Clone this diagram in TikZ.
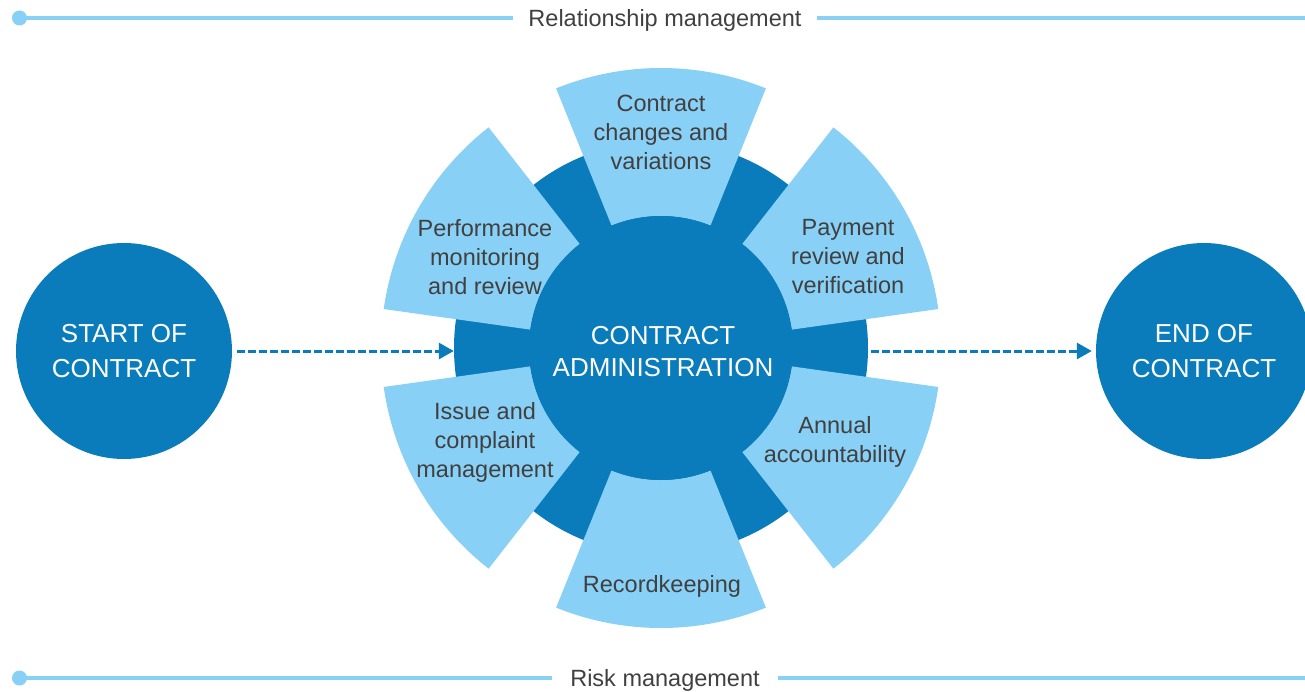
\documentclass[tikz,border=0pt]{standalone}
\usepackage{fontspec}
\setmainfont{Liberation Sans}
\usetikzlibrary{arrows.meta}
\definecolor{wheeldark}{RGB}{11,124,187}
\definecolor{petallight}{RGB}{137,208,246}
\definecolor{labeltext}{RGB}{64,64,64}
\tikzstyle{petal}=[fill=petallight]
\tikzstyle{petaltext}=[text=labeltext, align=center, font=\fontsize{23.5}{29}\selectfont]
\tikzstyle{hub}=[circle, fill=wheeldark, inner sep=0pt]
\tikzstyle{endpoint}=[circle, fill=wheeldark, text=white, align=center, minimum size=216pt, inner sep=0pt, font=\fontsize{26}{35}\selectfont]
\tikzstyle{flow}=[draw=wheeldark, line width=3pt, dash pattern=on 8pt off 3pt, -{Triangle[length=15pt,width=16pt]}]
\tikzstyle{band}=[draw=petallight, line width=4.3pt]
\tikzstyle{banddot}=[circle, fill=petallight, minimum size=15pt, inner sep=0pt]
\tikzstyle{bandtext}=[text=labeltext, inner xsep=15pt, font=\fontsize{23.5}{29}\selectfont]

\begin{document}
\begin{tikzpicture}[x=1pt, y=1pt]
            \useasboundingbox (-661,-343) rectangle (644,348);
            % bands at top and bottom
            \node[banddot] (reldot) at (-641.5,330) {};
            \node[bandtext] (rel) at (4,328) {Relationship management};
            \coordinate (relend) at (644,330);
            \draw[band] (reldot.center) -- (rel.west |- reldot);
            \draw[band] (rel.east |- relend) -- (relend);
            \node[banddot] (riskdot) at (-641.5,-330) {};
            \node[bandtext, inner xsep=18pt] (risk) at (4,-332) {Risk management};
            \coordinate (riskend) at (644,-330);
            \draw[band] (riskdot.center) -- (risk.west |- riskdot);
            \draw[band] (risk.east |- riskend) -- (riskend);
            % the wheel
            \node[hub, minimum size=414pt] (ring) at (0,0) {};
            \foreach \a in {90,30,-30,-90,-150,150}
                \fill[petal] (\a-22:132) arc[start angle=\a-22, end angle=\a+22, radius=132]
                    -- (\a+22:280) arc[start angle=\a+22, end angle=\a-22, radius=280] -- cycle;
            \node[hub, minimum size=264pt] (admin) at (0,0) {};
            \node[text=white, align=center, font=\fontsize{26}{32}\selectfont] (adminlabel) at (2,-4) {CONTRACT\\ADMINISTRATION};
            \node[petaltext] (changes) at (0,216) {Contract\\changes and\\variations};
            \node[petaltext] (payment) at (187,91) {Payment\\review and\\verification};
            \node[petaltext] (annual) at (174,-94) {Annual\\accountability};
            \node[petaltext] (records) at (1,-238) {Recordkeeping};
            \node[petaltext] (issues) at (-176,-94) {Issue and\\complaint\\management};
            \node[petaltext] (perform) at (-176,91) {Performance\\monitoring\\and review};
            % start and end
            \node[endpoint] (start) at (-537,-3) {START OF\\CONTRACT};
            \node[endpoint] (end) at (543,-3) {END OF\\CONTRACT};
            \draw[flow] ([xshift=5pt]start.east) -- (start.east -| ring.west);
            \draw[flow] ([xshift=3pt]end.west -| ring.east) -- ([xshift=-4pt]end.west);
        \end{tikzpicture}
\end{document}
